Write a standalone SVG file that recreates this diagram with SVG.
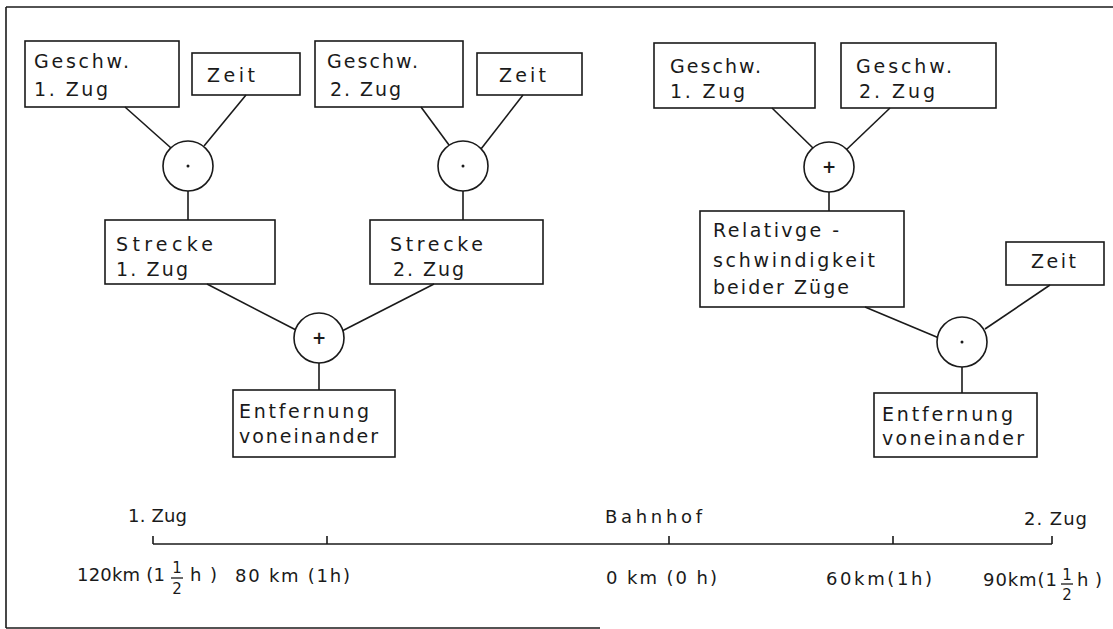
<svg xmlns="http://www.w3.org/2000/svg" width="1113" height="629" viewBox="0 0 1113 629">
<style>
.box{fill:none;stroke:#1a1a1a;stroke-width:1.6}
.op{fill:#fff;stroke:#1a1a1a;stroke-width:1.6}
.ln{stroke:#1a1a1a;stroke-width:1.6;fill:none}
.dot{fill:#1a1a1a}
text{font-family:"DejaVu Sans","Liberation Sans",sans-serif;font-size:19px;fill:#1a1a1a}
.sym{font-size:17px;text-anchor:middle;font-weight:bold}
.num{font-size:18px}
.fr{font-size:15px;text-anchor:middle}
</style>
<rect width="1113" height="629" fill="#fff"/>
<g id="frame" class="ln">
<line x1="6" y1="7" x2="1113" y2="7"/>
<line x1="6" y1="7" x2="6" y2="628"/>
<line x1="6" y1="628" x2="600" y2="628"/>
</g>
<g id="connectors" class="ln">
<line x1="125" y1="107" x2="171" y2="148"/>
<line x1="246" y1="95" x2="204" y2="146"/>
<line x1="188" y1="191" x2="188" y2="220"/>
<line x1="421" y1="107" x2="449" y2="145"/>
<line x1="523" y1="95" x2="481" y2="149"/>
<line x1="463" y1="191" x2="463" y2="220"/>
<line x1="207" y1="284" x2="296" y2="330"/>
<line x1="434" y1="284" x2="342" y2="331"/>
<line x1="319" y1="363" x2="319" y2="390"/>
<line x1="772" y1="108" x2="814" y2="149"/>
<line x1="890" y1="108" x2="845" y2="151"/>
<line x1="829" y1="192" x2="829" y2="211"/>
<line x1="865" y1="307" x2="939" y2="338"/>
<line x1="1050" y1="285" x2="985" y2="329"/>
<line x1="962" y1="367" x2="962" y2="393"/>
</g>
<g id="n_geschw1_l"><rect class="box" x="25" y="41" width="154" height="66"/><text x="34" y="68" textLength="95" lengthAdjust="spacing">Geschw.</text><text x="34" y="96" textLength="74" lengthAdjust="spacing">1. Zug</text></g>
<g id="n_zeit1_l"><rect class="box" x="192" y="53" width="108" height="42"/><text x="207" y="82" textLength="48" lengthAdjust="spacing">Zeit</text></g>
<g id="n_mul1"><circle class="op" cx="188" cy="166" r="25"/><circle class="dot" cx="188" cy="166" r="1.5"/></g>
<g id="n_strecke1"><rect class="box" x="105" y="220" width="170" height="64"/><text x="116" y="251" textLength="97" lengthAdjust="spacing">Strecke</text><text x="116" y="276" textLength="72" lengthAdjust="spacing">1. Zug</text></g>
<g id="n_geschw2_l"><rect class="box" x="315" y="41" width="148" height="66"/><text x="327" y="68" textLength="91" lengthAdjust="spacing">Geschw.</text><text x="330" y="96" textLength="71" lengthAdjust="spacing">2. Zug</text></g>
<g id="n_zeit2_l"><rect class="box" x="477" y="53" width="105" height="42"/><text x="499" y="82" textLength="47" lengthAdjust="spacing">Zeit</text></g>
<g id="n_mul2"><circle class="op" cx="463" cy="166" r="25"/><circle class="dot" cx="463" cy="166" r="1.5"/></g>
<g id="n_strecke2"><rect class="box" x="370" y="220" width="173" height="64"/><text x="390" y="251" textLength="93" lengthAdjust="spacing">Strecke</text><text x="393" y="276" textLength="71" lengthAdjust="spacing">2. Zug</text></g>
<g id="n_add_l"><circle class="op" cx="319" cy="338" r="25"/><text class="sym" x="319" y="344">+</text></g>
<g id="n_entf_l"><rect class="box" x="233" y="390" width="162" height="67"/><text x="239" y="418" textLength="130" lengthAdjust="spacing">Entfernung</text><text x="239" y="443" textLength="139" lengthAdjust="spacing">voneinander</text></g>
<g id="n_geschw1_r"><rect class="box" x="654" y="43" width="161" height="65"/><text x="670" y="73" textLength="91" lengthAdjust="spacing">Geschw.</text><text x="670" y="98" textLength="75" lengthAdjust="spacing">1. Zug</text></g>
<g id="n_geschw2_r"><rect class="box" x="841" y="43" width="155" height="65"/><text x="856" y="73" textLength="96" lengthAdjust="spacing">Geschw.</text><text x="859" y="98" textLength="76" lengthAdjust="spacing">2. Zug</text></g>
<g id="n_add_r"><circle class="op" cx="829" cy="167" r="25"/><text class="sym" x="829" y="173">+</text></g>
<g id="n_relativ"><rect class="box" x="700" y="211" width="204" height="96"/><text x="713" y="237" textLength="126" lengthAdjust="spacing">Relativge -</text><text x="713" y="267" textLength="162" lengthAdjust="spacing">schwindigkeit</text><text x="713" y="294" textLength="136" lengthAdjust="spacing">beider Züge</text></g>
<g id="n_zeit_r"><rect class="box" x="1006" y="242" width="98" height="43"/><text x="1031" y="268" textLength="45" lengthAdjust="spacing">Zeit</text></g>
<g id="n_mul_r"><circle class="op" cx="962" cy="342" r="25"/><circle class="dot" cx="962" cy="342" r="1.5"/></g>
<g id="n_entf_r"><rect class="box" x="874" y="393" width="163" height="64"/><text x="882" y="421" textLength="131" lengthAdjust="spacing">Entfernung</text><text x="882" y="445" textLength="142" lengthAdjust="spacing">voneinander</text></g>
<g id="numberline">
<g class="ln">
<line x1="153" y1="544" x2="1052" y2="544"/>
<line x1="153" y1="536" x2="153" y2="544"/>
<line x1="327" y1="536" x2="327" y2="544"/>
<line x1="669" y1="536" x2="669" y2="544"/>
<line x1="893" y1="536" x2="893" y2="544"/>
<line x1="1052" y1="536" x2="1052" y2="544"/>
</g>
<text class="num" x="128" y="522" textLength="59" lengthAdjust="spacing">1. Zug</text>
<text class="num" x="605" y="523" textLength="97" lengthAdjust="spacing">Bahnhof</text>
<text class="num" x="1024" y="525" textLength="63" lengthAdjust="spacing">2. Zug</text>
<text class="num" x="77" y="581" textLength="88" lengthAdjust="spacing">120km (1</text>
<text class="fr" x="177" y="573">1</text>
<line class="ln" x1="171" y1="578" x2="183" y2="578" style="stroke-width:1.3"/>
<text class="fr" x="177" y="594">2</text>
<text class="num" x="190" y="581" textLength="27" lengthAdjust="spacing">h)</text>
<text class="num" x="235" y="582" textLength="115" lengthAdjust="spacing">80 km (1h)</text>
<text class="num" x="606" y="584" textLength="111" lengthAdjust="spacing">0 km (0 h)</text>
<text class="num" x="826" y="585" textLength="106" lengthAdjust="spacing">60km(1h)</text>
<text class="num" x="983" y="586" textLength="74" lengthAdjust="spacing">90km(1</text>
<text class="fr" x="1067" y="580">1</text>
<line class="ln" x1="1061" y1="584" x2="1073" y2="584" style="stroke-width:1.3"/>
<text class="fr" x="1067" y="600">2</text>
<text class="num" x="1077" y="586" textLength="25" lengthAdjust="spacing">h)</text>
</g>
</svg>
